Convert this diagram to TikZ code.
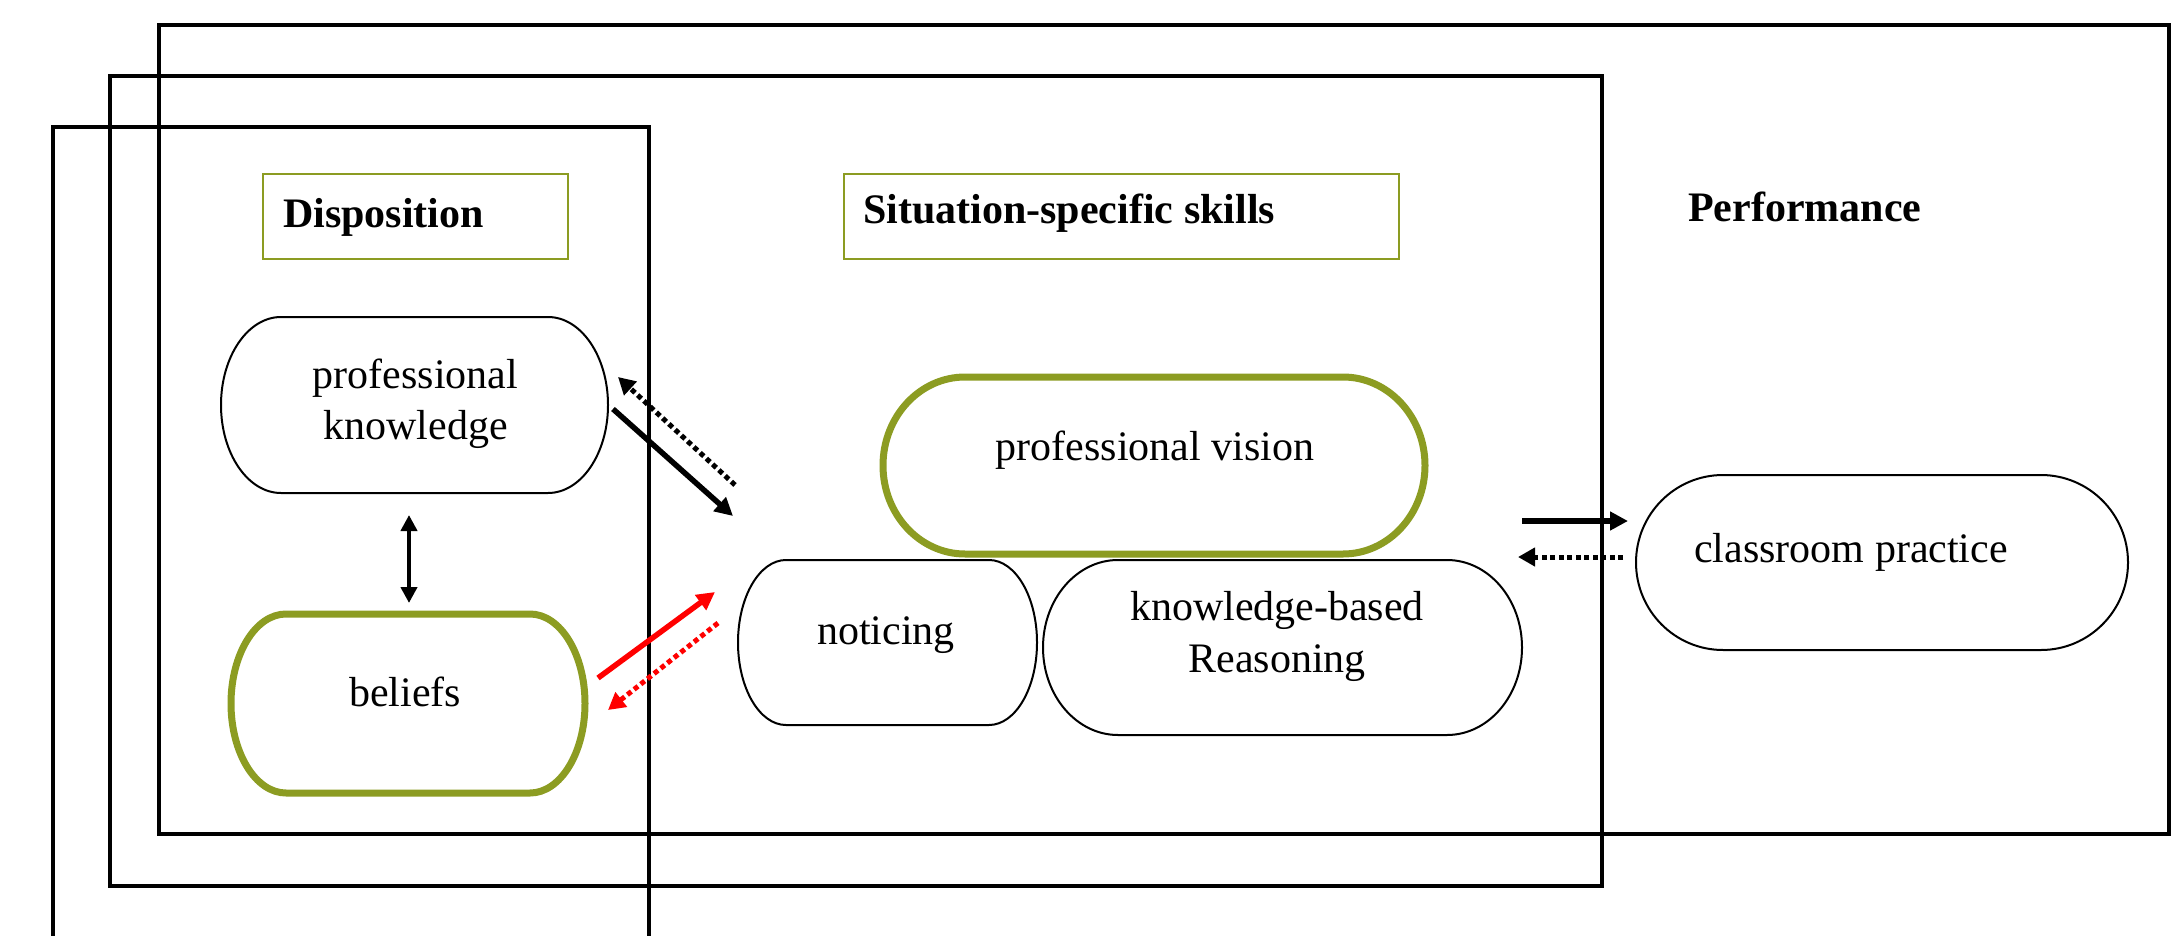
\documentclass[tikz,border=0pt]{standalone}
\usepackage{fontspec}
\setmainfont{Liberation Serif}
\usetikzlibrary{arrows.meta,calc}
\definecolor{oliveg}{RGB}{140,156,34}
\newcommand\drawstad[3]{%
  \draw[#3] let \p1=(#1.north west), \p2=(#1.south east) in
    (\x1+#2,\y1) -- (\x2-#2,\y1)
    arc[start angle=90,end angle=-90,x radius=#2pt,y radius={(\y1-\y2)/2}]
    -- (\x1+#2,\y2)
    arc[start angle=270,end angle=90,x radius=#2pt,y radius={(\y1-\y2)/2}] -- cycle;}
\tikzset{
  frame/.style={line width=4pt, draw=black},
  shp/.style={inner sep=0pt, outer sep=0pt, draw=none},
  thinout/.style={line width=2pt, draw=black},
  thickout/.style={line width=7pt, draw=oliveg},
  titlebox/.style={draw=oliveg, line width=2pt, inner sep=0pt, outer sep=0pt},
  lbl/.style={inner sep=0pt, font=\fontsize{42}{51}\selectfont},
  blbl/.style={inner sep=0pt, font=\fontsize{42}{51}\selectfont\bfseries},
  arr/.style={line width=5.5pt, -{Triangle[length=18pt,width=18pt]}},
  darr/.style={line width=5pt, dash pattern=on 5pt off 3.5pt, -{Triangle[length=17pt,width=18pt]}},
  dblarr/.style={line width=4pt, {Triangle[length=16pt,width=16pt]}-{Triangle[length=16pt,width=16pt]}},
}
\begin{document}
\begin{tikzpicture}[x=1pt,y=1pt]
\clip (0,0) rectangle (2183,-936);
\fill[white] (0,0) rectangle (2183,-936);
% frames
\draw[frame] (159,-25) rectangle (2169,-834);
\draw[frame] (110,-76) rectangle (1602,-886);
\draw[frame] (53,-960) -- (53,-127) -- (649,-127) -- (649,-960);
% title boxes
\node[titlebox, minimum width=305, minimum height=85] (dispbox) at (415.5,-216.5) {};
\node[titlebox, minimum width=555, minimum height=85] (sitbox) at (1121.5,-216.5) {};
\node[blbl, anchor=base west] (disp) at (283,-227) {Disposition};
\node[blbl, anchor=base west] (sit) at (863,-223) {Situation-specific skills};
\node[blbl, anchor=base west] (perf) at (1688,-221) {Performance};
% shapes
\node[shp, minimum width=387, minimum height=176] (pk) at (414.5,-405) {};
\node[shp, minimum width=354, minimum height=179] (bel) at (408,-703.5) {};
\node[shp, minimum width=542, minimum height=177] (pv) at (1154,-465.5) {};
\node[shp, minimum width=299, minimum height=165] (not) at (887.5,-642.5) {};
\node[shp, minimum width=479, minimum height=175] (kbr) at (1282.5,-647.5) {};
\node[shp, minimum width=492, minimum height=175] (cp) at (1882,-562.5) {};
\drawstad{pk}{60}{thinout}
\drawstad{bel}{55}{thickout}
\drawstad{pv}{82}{thickout}
\drawstad{not}{48}{thinout}
\drawstad{kbr}{75}{thinout}
\drawstad{cp}{87}{thinout}
% texts
\node[lbl, align=center] (pkt) at (415.5,-404) {professional\\knowledge};
\node[lbl, anchor=base] (belt) at (405,-706) {beliefs};
\node[lbl, anchor=base] (pvt) at (1155,-460) {professional vision};
\node[lbl, anchor=base] (nott) at (886,-644) {noticing};
\node[lbl, align=center, font=\fontsize{42}{52}\selectfont] (kbrt) at (1277,-636) {knowledge-based\\Reasoning};
\node[lbl, anchor=base west] (cpt) at (1694,-562) {classroom practice};
% arrow endpoints
\coordinate (v1) at (409,-515);
\coordinate (v2) at (409,-603);
\coordinate (a1) at (613,-409);
\coordinate (a2) at (733,-516);
\coordinate (b1) at (735,-485);
\coordinate (b2) at (618,-377);
\coordinate (c1) at (598,-678);
\coordinate (c2) at (715,-592);
\coordinate (d1) at (718,-623);
\coordinate (d2) at (608,-710);
\coordinate (e1) at (1522,-521);
\coordinate (e2) at (1628,-521);
\coordinate (f1) at (1623,-557);
\coordinate (f2) at (1518,-557);
% arrows
\draw[dblarr] (v1) -- (v2);
\draw[arr] (a1) -- (a2);
\draw[darr] (b1) -- (b2);
\draw[arr, red] (c1) -- (c2);
\draw[darr, red] (d1) -- (d2);
\draw[arr] (e1) -- (e2);
\draw[darr] (f1) -- (f2);
\end{tikzpicture}
\end{document}
